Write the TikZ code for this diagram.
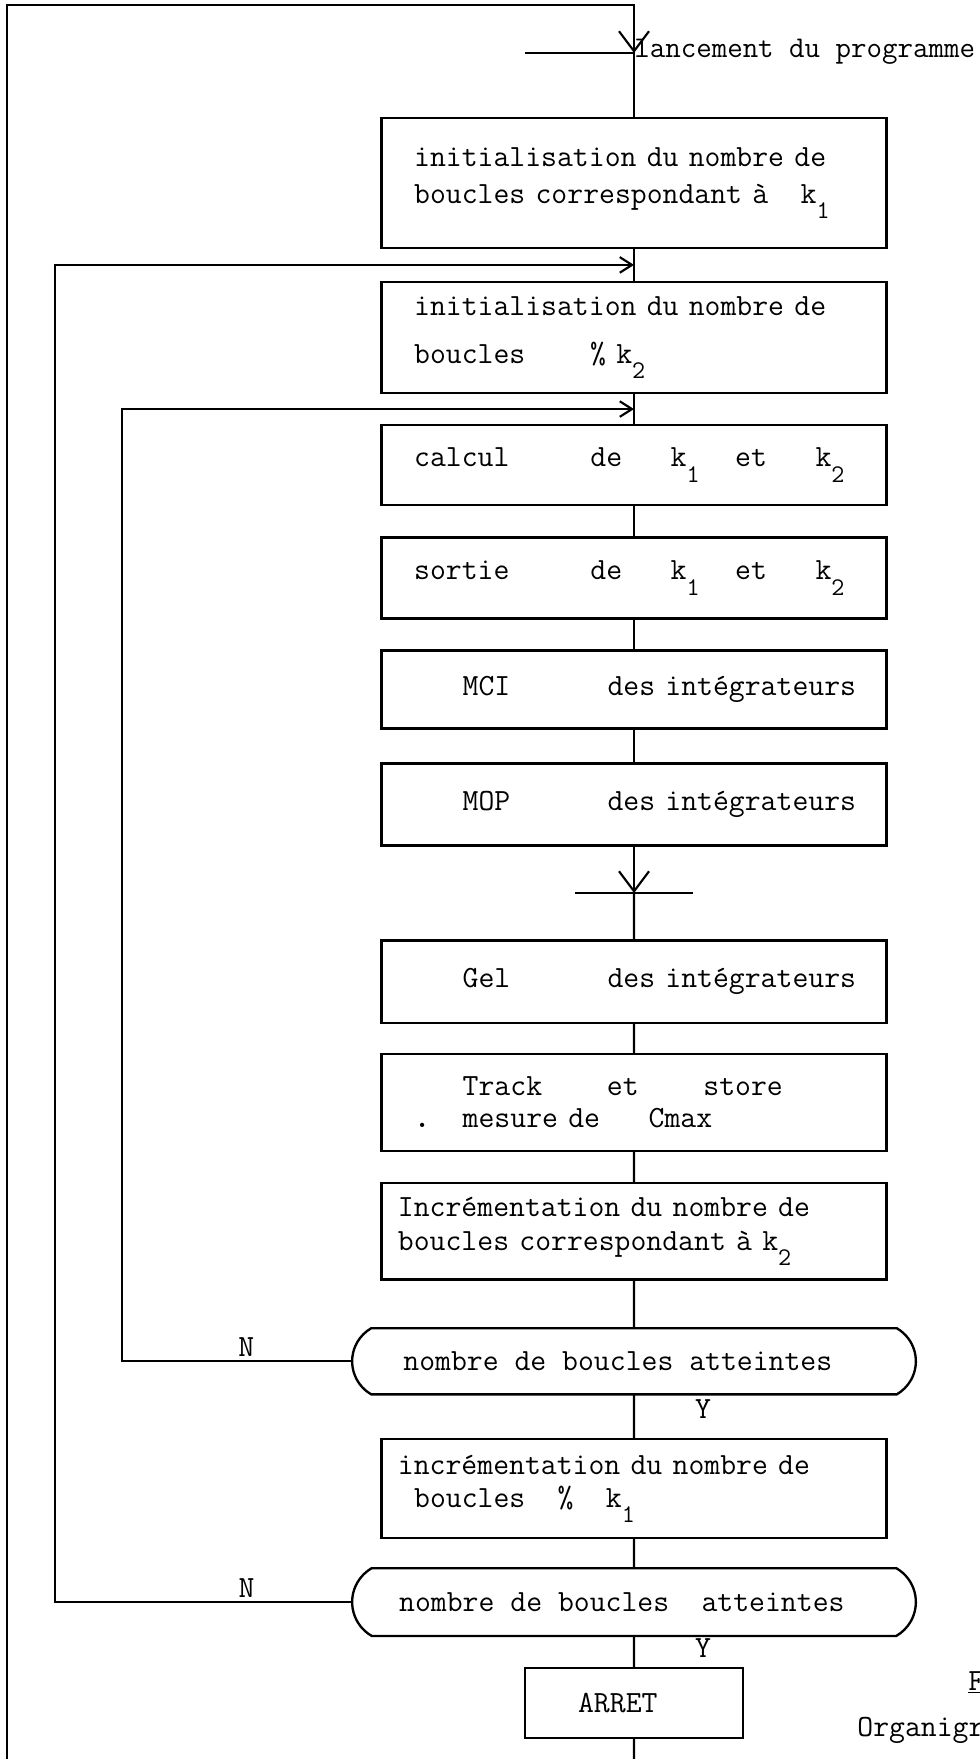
\documentclass[tikz,border=0pt]{standalone}
\usepackage{fontspec}
\usetikzlibrary{positioning,arrows.meta,shapes.misc,calc}

\newcommand\blanks[1]{\hspace*{#1\dimexpr0.525em\relax}}
\newcommand\kk[1]{k\makebox[0.525em][l]{\raisebox{-0.5em}{\fontsize{13}{13}\selectfont #1}}}

\begin{document}
\begin{tikzpicture}[
x=0.018cm, y=-0.018cm,
node distance=0.58cm,
every node/.style={font=\fontsize{15.8}{17.4}\selectfont\ttfamily},
box/.style={draw, line width=1.2pt, outer sep=0pt, minimum width=9.09cm, text width=8.5cm, inner xsep=0.295cm, inner ysep=2pt, align=left},
test/.style={draw, line width=1.2pt, outer sep=0pt, rounded rectangle, rounded rectangle arc length=120, minimum width=10.15cm, minimum height=1.19cm, inner xsep=0pt},
haltbox/.style={draw, line width=1.2pt, outer sep=0pt, minimum width=3.92cm, minimum height=1.26cm},
tag/.style={inner sep=2pt},
line/.style={line width=1.1pt},
vee/.style={line, -{Straight Barb[length=0.36cm,width=0.54cm]}},
feed/.style={line, -{Straight Barb[length=0.22cm,width=0.28cm]}}
]
\path[use as bounding box, fill=white] (0,0) rectangle (979,1759);

\node[box, minimum height=2.34cm] (init1) at (634,183) {\blanks{1}initialisation du nombre de\\[1.6pt]\blanks{1}boucles correspondant à\blanks{2}\kk{1}};
\node[box, minimum height=2.0cm, below=0.61cm of init1] (init2) {\blanks{1}initialisation du nombre de\\[7.2pt]\blanks{1}boucles\blanks{4}\% \kk{2}};
\node[box, minimum height=1.44cm, below=of init2] (compute) {\blanks{1}calcul\blanks{5}de\blanks{3}\kk{1}\blanks{2}et\blanks{3}\kk{2}};
\node[box, minimum height=1.46cm, below=of compute] (output) {\blanks{1}sortie\blanks{5}de\blanks{3}\kk{1}\blanks{2}et\blanks{3}\kk{2}};
\node[box, minimum height=1.40cm, below=of output] (mci) {\blanks{4}MCI\blanks{6}des intégrateurs};
\node[box, minimum height=1.48cm, below=0.63cm of mci] (mop) {\blanks{4}MOP\blanks{6}des intégrateurs};
\node[box, minimum height=1.48cm, below=1.71cm of mop] (freeze) {\blanks{4}Gel\blanks{6}des intégrateurs};
\node[box, minimum height=1.75cm, below=0.56cm of freeze] (track) {\blanks{4}Track\blanks{4}et\blanks{4}store\\[-1pt]\blanks{1}\textbf{.}\blanks{2}mesure de\blanks{3}Cmax};
\node[box, minimum height=1.73cm, below=of track] (incr2) {Incrémentation du nombre de\\boucles correspondant à \kk{2}};
\node[test, below=0.88cm of incr2] (check1) {nombre de boucles atteintes\blanks{2}};
\node[box, minimum height=1.78cm, below=0.81cm of check1] (incr1) {incrémentation du nombre de\\[-0.5pt]\blanks{1}boucles\blanks{2}\%\blanks{2}\kk{1}};
\node[test, minimum height=1.22cm, below=0.54cm of incr1] (check2) {nombre de boucles\blanks{2}atteintes\blanks{1.5}};
\node[haltbox, below=of check2] (stop) {ARRET\blanks{2}};

\coordinate (start) at (634,53);
\coordinate (launch) at (525,53);
\coordinate (looptop) at (7,5);
\coordinate (loopbot) at (7,1759);
\coordinate (rail2) at (55,0);
\coordinate (rail3) at (122,0);
\coordinate (join2) at ($(init1.south)!0.5!(init2.north)$);
\coordinate (join3) at ($(init2.south)!0.5!(compute.north)$);
\coordinate (join7) at ($(mop.south)!0.5!(freeze.north)$);

\node[anchor=mid west, inner sep=0pt, font=\fontsize{15.4}{17}\selectfont\ttfamily] (title) at (start) {lancement du programme};

\draw[vee] (loopbot) -- (looptop) -| (start);
\draw[line] (launch) -- (start) -- (init1);
\draw[line] (init1) -- (init2) -- (compute) -- (output) -- (mci) -- (mop);
\draw[vee] (mop) -- (join7);
\draw[line] (join7) +(-59,0) -- +(59,0);
\draw[line] (join7) -- (freeze) -- (track) -- (incr2) -- (check1) -- (incr1) -- (check2) -- (stop) -- (stop |- loopbot);

\draw[feed] (check1.west) -| (rail3 |- join3) -- (join3);
\draw[feed] (check2.west) -| (rail2 |- join2) -- (join2);
\path (check1.west) -- (check1.west -| rail3) node[tag, above, pos=0.46] (no1) {N};
\path (check2.west) -- (check2.west -| rail2) node[tag, above, pos=0.355] (no2) {N};
\node[tag, anchor=base] (yes1) at (703,1418) {Y};
\node[tag, anchor=base] (yes2) at (703,1657) {Y};

\node[anchor=base west, inner sep=0pt] (figno) at (968,1690) {\underline{F}};
\node[anchor=base west, inner sep=0pt] (figtitle) at (857,1736) {Organigr};
\end{tikzpicture}
\end{document}
